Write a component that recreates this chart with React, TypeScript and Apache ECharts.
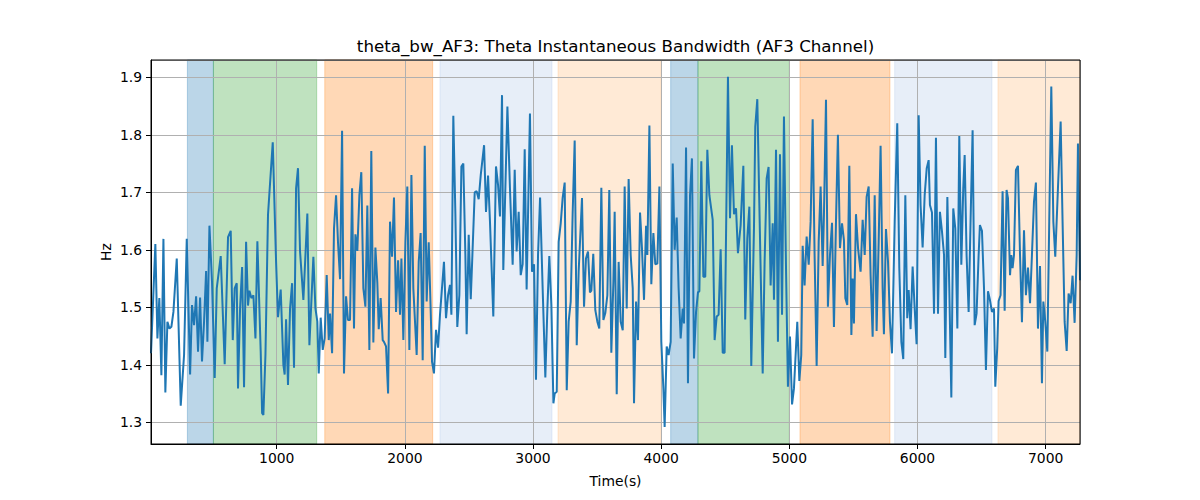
import React, { useEffect, useRef } from "react";
import * as echarts from "echarts";

const timeSeconds = [
  19, 53, 69, 84, 100, 116, 131, 147, 163, 178, 194, 220, 251, 277, 298, 324, 339, 355, 371, 386,
  402, 417, 433, 449, 459, 475, 495, 516, 532, 563, 594, 620, 641, 657, 672, 688, 698, 714, 730, 745,
  761, 776, 787, 802, 818, 834, 849, 875, 886, 896, 912, 932, 969, 995, 1010, 1031, 1052, 1062, 1073, 1088,
  1104, 1120, 1135, 1151, 1166, 1182, 1208, 1239, 1255, 1286, 1302, 1317, 1328, 1343, 1359, 1374, 1390, 1406, 1416, 1432,
  1447, 1463, 1478, 1494, 1510, 1525, 1541, 1556, 1572, 1588, 1603, 1614, 1629, 1645, 1660, 1676, 1692, 1707, 1723, 1738,
  1754, 1770, 1785, 1796, 1811, 1827, 1837, 1853, 1869, 1884, 1900, 1915, 1931, 1947, 1962, 1973, 1988, 2004, 2019, 2035,
  2051, 2066, 2077, 2092, 2108, 2123, 2139, 2155, 2170, 2186, 2201, 2212, 2227, 2243, 2259, 2274, 2305, 2321, 2337, 2352,
  2363, 2378, 2394, 2409, 2425, 2441, 2456, 2472, 2482, 2498, 2514, 2545, 2560, 2576, 2592, 2618, 2633, 2649, 2664, 2690,
  2711, 2727, 2742, 2758, 2768, 2800, 2820, 2841, 2857, 2872, 2888, 2904, 2919, 2935, 2950, 2976, 2992, 3008, 3023, 3039,
  3055, 3075, 3096, 3112, 3127, 3143, 3159, 3169, 3185, 3200, 3216, 3231, 3247, 3263, 3278, 3294, 3309, 3325, 3341, 3356,
  3382, 3398, 3413, 3429, 3444, 3455, 3470, 3486, 3502, 3517, 3533, 3549, 3564, 3580, 3595, 3611, 3627, 3637, 3653, 3668,
  3684, 3700, 3715, 3731, 3746, 3762, 3778, 3788, 3804, 3819, 3835, 3850, 3866, 3882, 3892, 3908, 3923, 3939, 3954, 3970,
  3986, 4001, 4017, 4027, 4043, 4058, 4074, 4090, 4105, 4121, 4136, 4152, 4168, 4178, 4194, 4209, 4225, 4240, 4256, 4272,
  4287, 4298, 4313, 4329, 4344, 4360, 4376, 4402, 4417, 4433, 4448, 4464, 4480, 4495, 4521, 4537, 4552, 4568, 4584, 4599,
  4620, 4641, 4656, 4672, 4688, 4703, 4724, 4734, 4750, 4766, 4792, 4807, 4823, 4838, 4854, 4870, 4880, 4896, 4911, 4927,
  4943, 4958, 4974, 4989, 5005, 5021, 5036, 5062, 5078, 5093, 5104, 5119, 5135, 5151, 5166, 5182, 5197, 5213, 5229, 5244,
  5260, 5270, 5286, 5301, 5317, 5333, 5348, 5364, 5379, 5395, 5411, 5426, 5437, 5452, 5468, 5484, 5494, 5504, 5520, 5536,
  5556, 5572, 5588, 5603, 5619, 5634, 5650, 5666, 5681, 5697, 5712, 5728, 5738, 5754, 5770, 5785, 5801, 5822, 5842, 5858,
  5874, 5889, 5905, 5920, 5931, 5946, 5962, 5978, 5993, 6009, 6024, 6040, 6056, 6072, 6087, 6097, 6113, 6129, 6144, 6160,
  6175, 6191, 6207, 6217, 6233, 6248, 6264, 6279, 6295, 6311, 6326, 6342, 6357, 6368, 6383, 6399, 6414, 6430, 6446, 6461,
  6477, 6487, 6503, 6519, 6534, 6550, 6565, 6581, 6597, 6607, 6622, 6633, 6648, 6664, 6680, 6695, 6706, 6722, 6732, 6742,
  6753, 6768, 6784, 6800, 6815, 6831, 6846, 6862, 6878, 6893, 6909, 6924, 6940, 6956, 6971, 6982, 6997, 7013, 7028, 7044,
  7060, 7075, 7096, 7117, 7132, 7148, 7164, 7179, 7195, 7210, 7226, 7242, 7252, 7268,
];

const thetaBandwidth = [
  1.42, 1.61, 1.446, 1.516, 1.382, 1.619, 1.352, 1.475, 1.463, 1.466, 1.492, 1.585, 1.329, 1.417, 1.619, 1.383, 1.504, 1.469, 1.519, 1.423,
  1.517, 1.406, 1.475, 1.563, 1.44, 1.642, 1.545, 1.377, 1.533, 1.589, 1.401, 1.622, 1.633, 1.443, 1.533, 1.542, 1.359, 1.498, 1.57, 1.361,
  1.614, 1.503, 1.529, 1.516, 1.521, 1.446, 1.615, 1.423, 1.316, 1.313, 1.417, 1.661, 1.787, 1.579, 1.483, 1.531, 1.4, 1.383, 1.479, 1.365,
  1.498, 1.542, 1.395, 1.707, 1.742, 1.597, 1.513, 1.663, 1.434, 1.588, 1.498, 1.475, 1.385, 1.482, 1.426, 1.446, 1.556, 1.443, 1.489, 1.42,
  1.637, 1.695, 1.614, 1.549, 1.807, 1.385, 1.519, 1.478, 1.478, 1.707, 1.463, 1.627, 1.598, 1.695, 1.735, 1.533, 1.501, 1.677, 1.426, 1.772,
  1.439, 1.604, 1.543, 1.462, 1.516, 1.443, 1.44, 1.432, 1.35, 1.649, 1.588, 1.691, 1.492, 1.582, 1.487, 1.585, 1.443, 1.614, 1.71, 1.426,
  1.73, 1.533, 1.484, 1.417, 1.579, 1.629, 1.408, 1.781, 1.51, 1.613, 1.498, 1.405, 1.385, 1.461, 1.43, 1.487, 1.579, 1.481, 1.521, 1.539,
  1.487, 1.833, 1.663, 1.466, 1.521, 1.745, 1.75, 1.591, 1.453, 1.626, 1.514, 1.7, 1.702, 1.688, 1.73, 1.782, 1.666, 1.729, 1.649, 1.484,
  1.745, 1.713, 1.658, 1.869, 1.565, 1.849, 1.707, 1.574, 1.739, 1.597, 1.666, 1.556, 1.575, 1.775, 1.531, 1.837, 1.562, 1.575, 1.374, 1.591,
  1.691, 1.533, 1.378, 1.498, 1.589, 1.504, 1.333, 1.35, 1.353, 1.614, 1.646, 1.69, 1.717, 1.356, 1.475, 1.51, 1.661, 1.79, 1.434, 1.562,
  1.69, 1.501, 1.585, 1.597, 1.526, 1.529, 1.593, 1.495, 1.475, 1.463, 1.708, 1.478, 1.49, 1.521, 1.704, 1.421, 1.545, 1.666, 1.349, 1.579,
  1.475, 1.46, 1.71, 1.498, 1.723, 1.591, 1.533, 1.333, 1.51, 1.443, 1.665, 1.603, 1.513, 1.642, 1.591, 1.816, 1.54, 1.629, 1.575, 1.576,
  1.71, 1.44, 1.359, 1.292, 1.432, 1.417, 1.44, 1.75, 1.6, 1.656, 1.533, 1.446, 1.498, 1.472, 1.778, 1.368, 1.695, 1.759, 1.411, 1.492,
  1.526, 1.528, 1.754, 1.553, 1.553, 1.774, 1.695, 1.652, 1.443, 1.484, 1.487, 1.601, 1.421, 1.421, 1.901, 1.655, 1.782, 1.662, 1.672, 1.594,
  1.643, 1.746, 1.479, 1.62, 1.675, 1.398, 1.637, 1.814, 1.862, 1.678, 1.385, 1.579, 1.724, 1.744, 1.538, 1.646, 1.513, 1.774, 1.44, 1.766,
  1.487, 1.832, 1.568, 1.362, 1.449, 1.331, 1.359, 1.475, 1.372, 1.417, 1.607, 1.538, 1.623, 1.574, 1.649, 1.827, 1.591, 1.398, 1.614, 1.71,
  1.572, 1.661, 1.861, 1.501, 1.591, 1.647, 1.466, 1.649, 1.8, 1.603, 1.646, 1.617, 1.516, 1.504, 1.746, 1.452, 1.55, 1.472, 1.662, 1.603,
  1.562, 1.652, 1.591, 1.692, 1.71, 1.556, 1.449, 1.695, 1.459, 1.614, 1.781, 1.533, 1.453, 1.636, 1.579, 1.475, 1.42, 1.649, 1.82, 1.568,
  1.44, 1.41, 1.695, 1.481, 1.53, 1.462, 1.571, 1.498, 1.436, 1.834, 1.678, 1.604, 1.695, 1.742, 1.756, 1.678, 1.665, 1.489, 1.795, 1.489,
  1.666, 1.632, 1.591, 1.412, 1.692, 1.533, 1.343, 1.672, 1.637, 1.463, 1.798, 1.574, 1.707, 1.765, 1.591, 1.492, 1.649, 1.808, 1.469, 1.489,
  1.591, 1.643, 1.633, 1.533, 1.391, 1.528, 1.513, 1.492, 1.498, 1.362, 1.429, 1.511, 1.521, 1.702, 1.494, 1.704, 1.69, 1.556, 1.591, 1.568,
  1.591, 1.739, 1.746, 1.591, 1.474, 1.634, 1.521, 1.569, 1.507, 1.591, 1.684, 1.717, 1.463, 1.572, 1.368, 1.51, 1.475, 1.423, 1.649, 1.884,
  1.649, 1.588, 1.707, 1.823, 1.649, 1.475, 1.424, 1.524, 1.507, 1.555, 1.473, 1.591, 1.785, 1.547,
];

// Shaded segments (start, end in seconds) and their kind
const bandStarts = [303, 506, 1375, 2274, 3195, 4074, 4287, 5083, 5822, 6628];
const bandEnds = [506, 1312, 2217, 3148, 3996, 4287, 5000, 5785, 6581, 7268];
const bandKinds = ["blue", "green", "orange", "lightblue", "lightorange", "blue", "green", "orange", "lightblue", "lightorange"];

const X_MIN = 19;
const X_MAX = 7268;
const Y_MIN = 1.2623;
const Y_MAX = 1.9301;

const TITLE = "theta_bw_AF3: Theta Instantaneous Bandwidth (AF3 Channel)";
const X_NAME = "Time(s)";
const Y_NAME = "Hz";

const bandPalette: Record<string, string> = {
  blue: "rgba(31,119,180,0.3)",
  green: "rgba(44,160,44,0.3)",
  orange: "rgba(255,127,14,0.3)",
  lightblue: "rgba(174,199,232,0.3)",
  lightorange: "rgba(255,187,120,0.3)",
};

const FONT = "DejaVu Sans";

export default function App() {
  const ref = useRef<HTMLDivElement>(null);
  useEffect(() => {
    if (!ref.current) return;
    const chart = echarts.init(ref.current, null, { renderer: "svg" });
    const lineData = timeSeconds.map((t, i) => [t, thetaBandwidth[i]]);
    const areas = bandStarts.map((s, i) => {
      const c = bandPalette[bandKinds[i]];
      return [
        { xAxis: s, itemStyle: { color: c, borderColor: c, borderWidth: 1 } },
        { xAxis: bandEnds[i] },
      ];
    });
    const left = 151, top = 60, width = 929, height = 384;
    chart.setOption({
      animation: false,
      backgroundColor: "#ffffff",
      grid: {
        left, top, width, height,
        show: true,
        borderColor: "#000",
        borderWidth: 1,
        backgroundColor: "transparent",
        z: 10,
      },
      xAxis: {
        type: "value",
        min: X_MIN,
        max: X_MAX,
        splitNumber: 7,
        z: 3,
        axisLine: { show: true, onZero: false, lineStyle: { color: "#000", width: 1 } },
        axisTick: { show: true, length: 5, lineStyle: { color: "#000", width: 1 } },
        axisLabel: {
          color: "#000", fontSize: 13.9, fontFamily: FONT, margin: 7,
          showMinLabel: false, showMaxLabel: false,
          formatter: (v: number) => String(Math.round(v)),
        },
        splitLine: { show: true, lineStyle: { color: "#b0b0b0", width: 1 } },
      },
      yAxis: {
        type: "value",
        min: Y_MIN,
        max: Y_MAX,
        splitNumber: 7,
        z: 3,
        axisLine: { show: true, onZero: false, lineStyle: { color: "#000", width: 1 } },
        axisTick: { show: true, length: 5, lineStyle: { color: "#000", width: 1 } },
        axisLabel: {
          color: "#000", fontSize: 13.9, fontFamily: FONT, margin: 9,
          showMinLabel: false, showMaxLabel: false,
          formatter: (v: number) => v.toFixed(1),
        },
        splitLine: { show: true, lineStyle: { color: "#b0b0b0", width: 1 } },
      },
      series: [
        {
          type: "line",
          data: lineData,
          z: 1,
          symbol: "none",
          silent: true,
          lineStyle: { opacity: 0 },
          markArea: { silent: true, z: 1, data: areas },
        },
        {
          type: "line",
          data: lineData,
          z: 5,
          symbol: "none",
          silent: true,
          lineStyle: { color: "#1f77b4", width: 2 },
          itemStyle: { color: "#1f77b4" },
        },
      ],
      graphic: [
        {
          type: "text",
          x: left + width / 2,
          y: 46,
          style: { text: TITLE, fill: "#000", font: `16.7px "${FONT}"`, textAlign: "center", textVerticalAlign: "middle" },
        },
        {
          type: "text",
          x: left + width / 2,
          y: 481,
          style: { text: X_NAME, fill: "#000", font: `13.9px "${FONT}"`, textAlign: "center", textVerticalAlign: "middle" },
        },
        {
          type: "text",
          x: 106,
          y: top + height / 2,
          rotation: Math.PI / 2,
          style: { text: Y_NAME, fill: "#000", font: `13.9px "${FONT}"`, textAlign: "center", textVerticalAlign: "middle" },
        },
      ],
    });
    return () => chart.dispose();
  }, []);
  return <div ref={ref} style={{ position: "fixed", left: 0, top: 0, width: 1200, height: 500 }} />;
}
